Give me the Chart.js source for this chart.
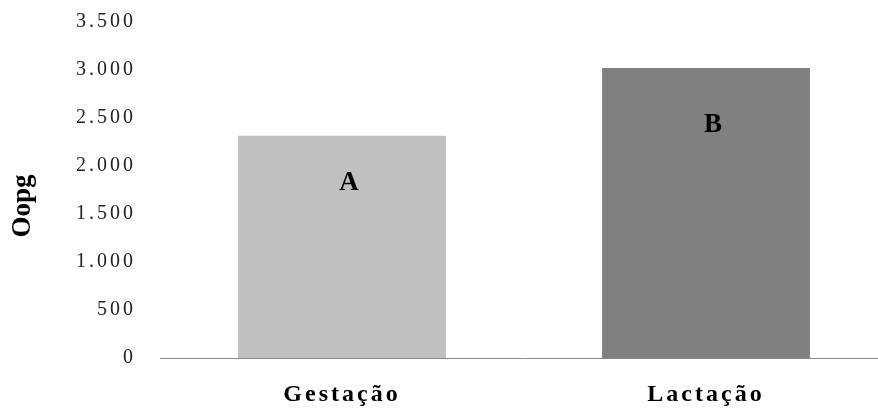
<!DOCTYPE html>
<html>
<head>
<meta charset="utf-8">
<script src="https://cdn.jsdelivr.net/npm/chart.js@4/dist/chart.umd.min.js"></script>
<style>
  html, body { margin: 0; padding: 0; background: #fff; overflow: hidden; }
  #wrap { width: 888px; height: 414px; margin-top: -6px; }
</style>
</head>
<body>
<div id="wrap"><canvas id="chart"></canvas></div>
<script>
const categories = ['Gestação', 'Lactação'];
const oopgValues = [2315, 3020];
const barColors = ['#c0c0c0', '#808080'];
const letters = ['A', 'B'];
const letterValues = [1820, 2430];
const yTicks = [0, 500, 1000, 1500, 2000, 2500, 3000, 3500];
const yTitle = 'Oopg';

function fmt(v) {
    return v.toString().replace(/\B(?=(\d{3})+(?!\d))/g, '.');
}

// the original text is drawn wide, so space the axis letters out a bit
const spacingPlugin = {
    id: 'spacing',
    beforeDraw(chart) { chart.ctx.letterSpacing = '3px'; },
    beforeDatasetsDraw(chart) { chart.ctx.letterSpacing = '0px'; }
};

// draws the A / B letters inside the bars and the y title (sits a bit low in the original)
const letterPlugin = {
    id: 'letters',
    afterDatasetsDraw(chart) {
        const ctx = chart.ctx;
        const x = chart.scales.x, y = chart.scales.y;
        const area = chart.chartArea;
        ctx.save();
        ctx.letterSpacing = '0px';
        ctx.font = 'bold 27px "Liberation Serif"';
        ctx.fillStyle = '#000';
        ctx.textAlign = 'center';
        ctx.textBaseline = 'middle';
        letters.forEach((l, i) => {
            ctx.fillText(l, x.getPixelForValue(i) + 7, y.getPixelForValue(letterValues[i]));
        });
        ctx.translate(23, (area.top + area.bottom) / 2 + 16);
        ctx.rotate(-Math.PI / 2);
        ctx.fillText(yTitle, 0, 0);
        ctx.restore();
    }
};

new Chart(document.getElementById('chart'), {
    type: 'bar',
    data: {
        labels: categories,
        datasets: [{
            data: oopgValues,
            backgroundColor: barColors,
            barPercentage: 0.571,
            categoryPercentage: 1
        }]
    },
    options: {
        responsive: true,
        maintainAspectRatio: false,
        animation: false,
        layout: { padding: { top: 7, left: 0, right: 0, bottom: 0 } },
        plugins: { legend: { display: false }, tooltip: { enabled: false } },
        scales: {
            x: {
                grid: { display: false },
                border: { display: true, color: '#888', width: 1 },
                ticks: {
                    color: '#000',
                    padding: 14,
                    font: { family: 'Liberation Serif', size: 24, weight: 'bold' }
                },
                afterFit: s => { s.height = 50; }
            },
            y: {
                min: 0,
                max: 3500,
                afterBuildTicks: s => { s.ticks = yTicks.map(v => ({ value: v })); },
                grid: { display: false },
                border: { display: false },
                ticks: {
                    color: '#222',
                    padding: 16,
                    font: { family: 'Liberation Serif', size: 20 },
                    callback: v => fmt(v)
                },
                afterFit: s => { s.width = 160; }
            }
        }
    },
    plugins: [spacingPlugin, letterPlugin]
});
</script>
</body>
</html>
